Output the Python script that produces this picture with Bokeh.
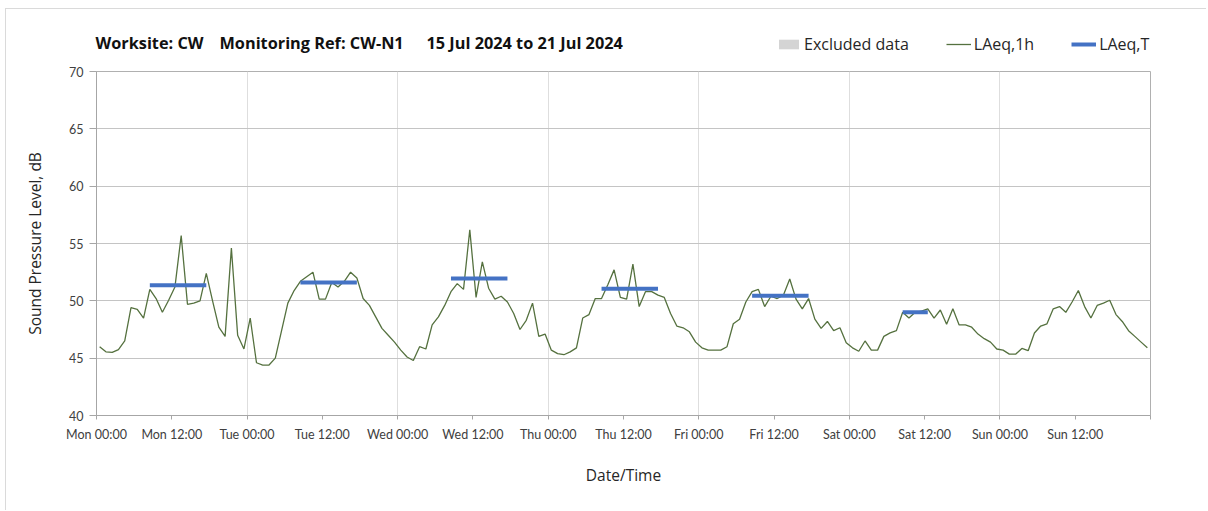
from bokeh.plotting import figure
from bokeh.models import (Range1d, FixedTicker, Legend, LegendItem, Label,
                          ColumnDataSource)
from bokeh.embed import file_html
from bokeh.resources import INLINE

# ---------------- data ----------------
day_names = ["Mon", "Tue", "Wed", "Thu", "Fri", "Sat", "Sun"]

laeq_1h_mon = [46.0, 45.55, 45.5, 45.75, 46.5, 49.4, 49.25, 48.5, 51.0, 50.2, 49.0, 50.05,
               51.2, 55.7, 49.7, 49.8, 50.0, 52.4, 50.0, 47.7, 46.9, 54.6, 47.0, 45.8]
laeq_1h_tue = [48.5, 44.6, 44.4, 44.4, 45.0, 47.4, 49.8, 50.9, 51.7, 52.1, 52.5, 50.15,
               50.15, 51.6, 51.2, 51.7, 52.5, 52.0, 50.2, 49.6, 48.6, 47.6, 47.0, 46.4]
laeq_1h_wed = [45.7, 45.1, 44.8, 46.0, 45.8, 47.9, 48.6, 49.6, 50.8, 51.5, 51.0, 56.2,
               50.3, 53.4, 51.1, 50.15, 50.4, 49.9, 48.9, 47.5, 48.3, 49.8, 46.9, 47.1]
laeq_1h_thu = [45.7, 45.4, 45.3, 45.55, 45.9, 48.5, 48.8, 50.2, 50.2, 51.4, 52.7, 50.3,
               50.15, 53.2, 49.5, 50.8, 50.8, 50.5, 50.3, 48.9, 47.8, 47.65, 47.3, 46.4]
laeq_1h_fri = [45.9, 45.7, 45.7, 45.7, 46.0, 48.0, 48.4, 49.9, 50.8, 51.0, 49.5, 50.4,
               50.2, 50.5, 51.9, 50.15, 49.3, 50.2, 48.4, 47.6, 48.2, 47.4, 47.65, 46.35]
laeq_1h_sat = [45.9, 45.6, 46.5, 45.7, 45.7, 46.9, 47.2, 47.4, 49.0, 48.5, 49.0, 49.1,
               49.3, 48.5, 49.2, 47.95, 49.3, 47.9, 47.9, 47.7, 47.1, 46.7, 46.4, 45.8]
laeq_1h_sun = [45.7, 45.35, 45.35, 45.85, 45.65, 47.2, 47.8, 48.0, 49.3, 49.5, 49.0, 49.9,
               50.9, 49.5, 48.5, 49.6, 49.8, 50.05, 48.8, 48.2, 47.4, 46.9, 46.4, 45.9]

# LAeq,T per assessment period (day index, first hour, last hour, level)
laeq_t_day = [0, 1, 2, 3, 4, 5]
laeq_t_first_hour = [8, 8, 8, 8, 8, 8]
laeq_t_last_hour = [17, 17, 17, 17, 17, 12]
laeq_t_value = [51.35, 51.6, 51.95, 51.05, 50.45, 49.0]

# excluded periods (none in this week)
excluded_start = []
excluded_end = []

title_parts = ["Worksite: CW", "Monitoring Ref: CW-N1", "15 Jul 2024 to 21 Jul 2024"]
legend_labels = ["Excluded data", "LAeq,1h", "LAeq,T"]

tick_hours = list(range(0, 169, 12))
tick_labels = {h: (f"{day_names[h // 24]} {h % 24:02d}:00" if h < 168 else "")
               for h in tick_hours}
y_ticks = [40, 45, 50, 55, 60, 65, 70]

# ---------------- derived ----------------
laeq_1h = (laeq_1h_mon + laeq_1h_tue + laeq_1h_wed + laeq_1h_thu +
           laeq_1h_fri + laeq_1h_sat + laeq_1h_sun)
hour_centre = [i + 0.5 for i in range(len(laeq_1h))]
src_1h = ColumnDataSource(dict(x=hour_centre, y=laeq_1h))

src_t = ColumnDataSource(dict(
    x0=[d * 24 + a + 0.5 for d, a in zip(laeq_t_day, laeq_t_first_hour)],
    x1=[d * 24 + b + 0.5 for d, b in zip(laeq_t_day, laeq_t_last_hour)],
    y=laeq_t_value))
src_ex = ColumnDataSource(dict(left=excluded_start, right=excluded_end))

FONT = "Open Sans"
TICK_FONT = "Lato"
W = 1206
HEADER_H = 58
MAIN_H = 452

COL_1H = "#55713f"
COL_T = "#4472C4"
COL_EX = "#d4d4d4"
FRAME_LINE = "linear-gradient(#dadada, #dadada)"

# ---------------- header (title + legend) ----------------
hdr = figure(width=W, height=HEADER_H,
             x_range=Range1d(0, W), y_range=Range1d(HEADER_H, 0),
             output_backend="svg", toolbar_location=None,
             x_axis_location=None, y_axis_location=None,
             min_border=0, min_border_left=0, min_border_right=0,
             min_border_top=0, min_border_bottom=0,
             background_fill_alpha=0, border_fill_alpha=0)
hdr.outline_line_color = None
hdr.xgrid.visible = False
hdr.ygrid.visible = False
hdr.styles = {"background": f"{FRAME_LINE} no-repeat 5px 8px / 1px 100%, "
                            f"{FRAME_LINE} no-repeat 5px 8px / 100% 1px"}

for xp, txt in zip([95, 219, 426], title_parts):
    hdr.add_layout(Label(x=xp, y=42, text=txt, text_font=FONT,
                         text_font_style="bold", text_font_size="16.3px",
                         text_color="#111111", text_baseline="middle"))

# legend proxies (single scalar glyphs of zero size carrying the styles)
h_ex = hdr.quad(left=0, right=0, top=0, bottom=0, fill_color=COL_EX, line_color=None)
h_1h = hdr.line(x=0, y=0, line_color=COL_1H, line_width=1.3)
h_t = hdr.segment(x0=0, y0=0, x1=0, y1=0, line_color=COL_T, line_width=4)

legend = Legend(items=[LegendItem(label=legend_labels[0], renderers=[h_ex]),
                       LegendItem(label=legend_labels[1], renderers=[h_1h]),
                       LegendItem(label=legend_labels[2], renderers=[h_t])],
                orientation="horizontal", location=(776, 3),
                padding=0, margin=0, spacing=37, label_standoff=3,
                glyph_width=25, glyph_height=12,
                border_line_color=None, background_fill_alpha=0,
                label_text_font=FONT, label_text_font_size="16px",
                label_text_color="#262626")
hdr.add_layout(legend)

# ---------------- main plot ----------------
p = figure(width=W, height=MAIN_H,
           x_range=Range1d(0, 168), y_range=Range1d(40, 70),
           output_backend="svg", toolbar_location=None,
           min_border_left=96, min_border_right=W - 1150,
           min_border_top=71 - HEADER_H, min_border_bottom=MAIN_H - (415 - HEADER_H),
           background_fill_color="white", border_fill_alpha=0)
p.styles = {"background": f"{FRAME_LINE} no-repeat 5px 0 / 1px 100%"}
p.outline_line_color = "#b0b0b0"

p.xgrid.ticker = FixedTicker(ticks=list(range(0, 169, 24)))
p.xgrid.grid_line_color = "#dedede"
p.ygrid.ticker = FixedTicker(ticks=y_ticks)
p.ygrid.grid_line_color = "#c4c4c4"

p.xaxis.ticker = FixedTicker(ticks=tick_hours)
p.xaxis.major_label_overrides = tick_labels
p.xaxis.minor_tick_line_color = None
p.xaxis.major_tick_in = 0
p.xaxis.major_tick_out = 4
p.xaxis.major_label_standoff = 7
p.xaxis.axis_label = "Date/Time"
p.xaxis.axis_label_standoff = 19

p.yaxis.ticker = FixedTicker(ticks=y_ticks)
p.yaxis.minor_tick_line_color = None
p.yaxis.major_tick_in = 0
p.yaxis.major_tick_out = 7
p.yaxis.major_label_standoff = 6
p.yaxis.axis_label = "Sound Pressure Level, dB"
p.yaxis.axis_label_standoff = 20

for ax in (p.xaxis[0], p.yaxis[0]):
    ax.axis_line_color = "#a6a6a6"
    ax.major_tick_line_color = "#a6a6a6"
    ax.major_label_text_font = TICK_FONT
    ax.major_label_text_font_size = "12.5px"
    ax.major_label_text_color = "#404040"
    ax.axis_label_text_font = FONT
    ax.axis_label_text_font_size = "15.5px"
    ax.axis_label_text_font_style = "normal"
    ax.axis_label_text_color = "#262626"

p.quad(left="left", right="right", top=70, bottom=40, source=src_ex,
       fill_color=COL_EX, line_color=None)
p.line("x", "y", source=src_1h, line_color=COL_1H, line_width=1.3)
p.segment(x0="x0", y0="y", x1="x1", y1="y", source=src_t,
          line_color=COL_T, line_width=4)

open("out.html", "w").write(file_html([hdr, p], INLINE))
